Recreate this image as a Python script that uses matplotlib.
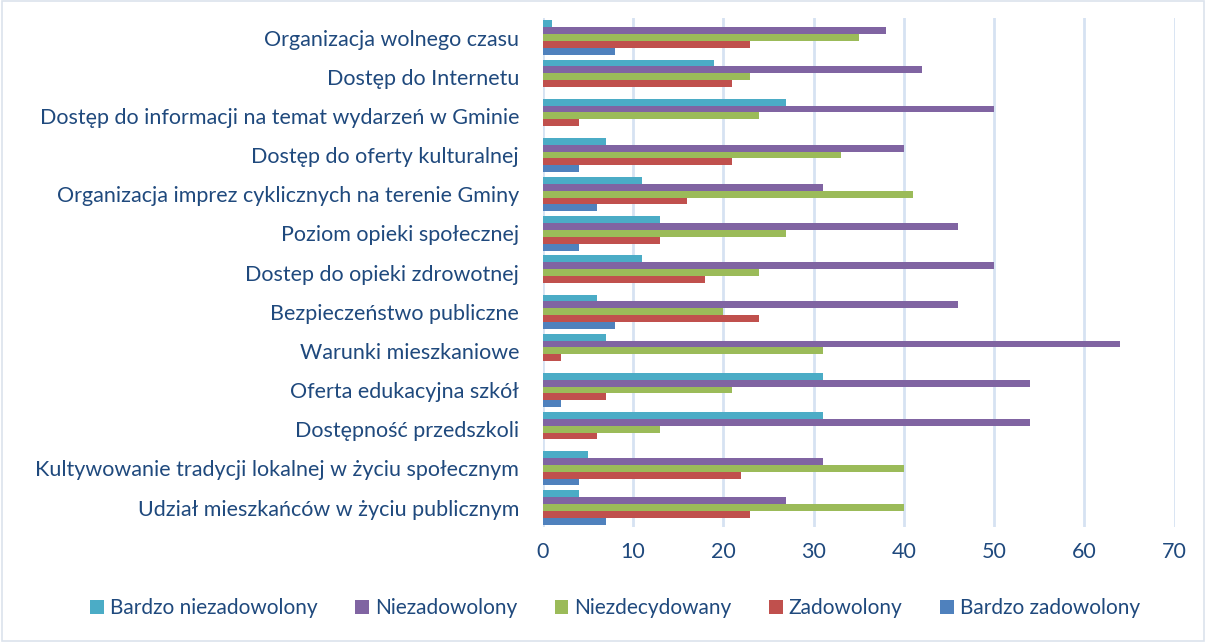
import numpy as np
import matplotlib.pyplot as plt
from matplotlib.patches import Rectangle

categories = [
    'Organizacja wolnego czasu',
    'Dostęp do Internetu',
    'Dostęp do informacji na temat wydarzeń w Gminie',
    'Dostęp do oferty kulturalnej',
    'Organizacja imprez cyklicznych na terenie Gminy',
    'Poziom opieki społecznej',
    'Dostep do opieki zdrowotnej',
    'Bezpieczeństwo publiczne',
    'Warunki mieszkaniowe',
    'Oferta edukacyjna szkół',
    'Dostępność przedszkoli',
    'Kultywowanie tradycji lokalnej w życiu społecznym',
    'Udział mieszkańców w życiu publicznym',
]

series_names = ['Bardzo niezadowolony', 'Niezadowolony', 'Niezdecydowany',
                'Zadowolony', 'Bardzo zadowolony']

bardzo_niezadowolony = [1, 19, 27, 7, 11, 13, 11, 6, 7, 31, 31, 5, 4]
niezadowolony = [38, 42, 50, 40, 31, 46, 50, 46, 64, 54, 54, 31, 27]
niezdecydowany = [35, 23, 24, 33, 41, 27, 24, 20, 31, 21, 13, 40, 40]
zadowolony = [23, 21, 4, 21, 16, 13, 18, 24, 2, 7, 6, 22, 23]
bardzo_zadowolony = [8, 0, 0, 4, 6, 4, 0, 8, 0, 2, 0, 4, 7]

values = [bardzo_niezadowolony, niezadowolony, niezdecydowany,
          zadowolony, bardzo_zadowolony]
colors = ['#4BACC6', '#8064A2', '#9BBB59', '#C0504D', '#4F81BD']
text_color = '#1F497D'

plt.rcParams['font.family'] = ['Lato', 'DejaVu Sans']

fig = plt.figure(figsize=(12.06, 6.42), dpi=100)
ax = fig.add_axes([0.450, 0.179, 0.524, 0.793])

y = np.arange(len(categories))
h = 0.175
for i, (name, vals, c) in enumerate(zip(series_names, values, colors)):
    offs = (i - 2) * h
    ax.barh(y + offs, vals, height=h, color=c, label=name, zorder=3)

ax.set_ylim(len(categories) - 0.5, -0.5)
ax.set_xlim(0, 70)
ax.set_xticks(range(0, 71, 10))
ax.set_yticks(y)
ax.set_yticklabels(categories)
ax.tick_params(axis='both', length=0, labelsize=15.5, colors=text_color)
ax.tick_params(axis='x', pad=11)
ax.tick_params(axis='y', pad=17)
ax.grid(axis='x', color='#D6E2F2', linewidth=2, zorder=0)
for s in ax.spines.values():
    s.set_visible(False)

fig.legend(loc='center', bbox_to_anchor=(0.51, 0.053), ncol=5, frameon=False,
           fontsize=15, labelcolor=text_color, handlelength=0.65, handleheight=0.65,
           handletextpad=0.3, columnspacing=1.8)

fig.patches.append(Rectangle((0.002, 0.002), 0.996, 0.996, transform=fig.transFigure,
                             fill=False, edgecolor='#DCE3EC', linewidth=1.2))

fig.savefig('out.png', dpi=100)
